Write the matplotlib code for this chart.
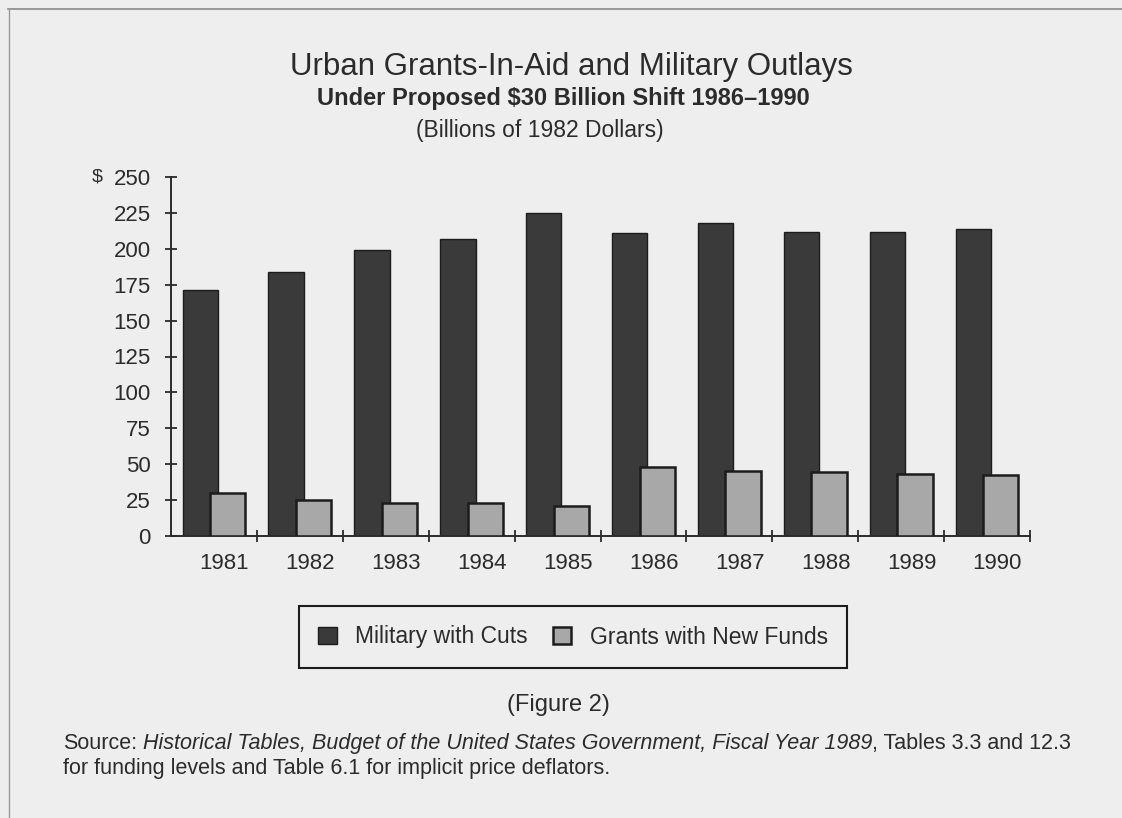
import numpy as np
import matplotlib
matplotlib.use("Agg")
import matplotlib.pyplot as plt
from matplotlib.lines import Line2D

# Values (billions of 1982 dollars)
years = ["1981", "1982", "1983", "1984", "1985", "1986", "1987", "1988", "1989", "1990"]
military = [171, 184, 199, 207, 225, 211, 218, 212, 212, 214]
grants = [30, 25, 23, 23, 21, 48, 45.5, 44.5, 43.5, 42.5]
yticks = [0, 25, 50, 75, 100, 125, 150, 175, 200, 225, 250]

bg = "#eeeeee"
ink = "#2b2b2b"
plt.rcParams["font.family"] = ["Liberation Sans", "DejaVu Sans"]
plt.rcParams["text.color"] = ink

fig = plt.figure(figsize=(11.22, 8.18), dpi=100, facecolor=bg)
ax = fig.add_axes([171 / 1122, 1 - 536 / 818, 859 / 1122, 359 / 818])
ax.set_facecolor(bg)

x = np.arange(len(years))
ax.bar(x - 0.16, military, width=0.41, color="#3a3a3a", edgecolor="#1c1c1c",
       linewidth=1.0, zorder=2, label="Military with Cuts")
ax.bar(x + 0.16, grants, width=0.41, color="#a8a8a8", edgecolor="#1c1c1c",
       linewidth=1.8, zorder=3, label="Grants with New Funds")

ax.set_xlim(-0.5, len(years) - 0.5)
ax.set_ylim(0, 250)

# ticks at category boundaries, labels under the bars
ax.set_xticks(np.arange(0.5, len(years), 1.0))
ax.set_xticklabels([])
ax.set_xticks(x + 0.12, minor=True)
ax.set_xticklabels(years, minor=True, fontsize=16)
ax.tick_params(axis="x", which="major", direction="inout", length=9, width=1.3, color=ink)
ax.tick_params(axis="x", which="minor", length=0, pad=12, labelcolor=ink)

ax.set_yticks(yticks)
ax.set_yticklabels([str(v) for v in yticks], fontsize=16)
ax.tick_params(axis="y", direction="inout", length=9, width=1.3, color=ink, pad=10, labelcolor=ink)
ax.annotate("$", xy=(0, 250), xycoords=("axes fraction", "data"), xytext=(-79, 0),
            textcoords="offset pixels", ha="left", va="center", fontsize=14)

for s in ["top", "right"]:
    ax.spines[s].set_visible(False)
for s in ["left", "bottom"]:
    ax.spines[s].set_linewidth(1.4)
    ax.spines[s].set_color(ink)

# titles
fig.text(571 / 1122, 1 - 67 / 818, "Urban Grants-In-Aid and Military Outlays",
         ha="center", va="center", fontsize=22.5)
fig.text(563 / 1122, 1 - 98 / 818, "Under Proposed \\$30 Billion Shift 1986\u20131990",
         ha="center", va="center", fontsize=17, fontweight="bold")
fig.text(540 / 1122, 1 - 131 / 818, "(Billions of 1982 Dollars)",
         ha="center", va="center", fontsize=16.5)

# legend
leg = fig.legend(loc="center", bbox_to_anchor=(573 / 1122, 1 - 637 / 818), ncol=2,
                 fontsize=16.5, frameon=True, fancybox=False, edgecolor="#1c1c1c",
                 facecolor=bg, framealpha=1, handlelength=0.8, handleheight=0.8,
                 columnspacing=1.1, borderpad=0.85, handletextpad=0.8, borderaxespad=0)
leg.get_frame().set_linewidth(1.5)

fig.text(558 / 1122, 1 - 705 / 818, "(Figure 2)", ha="center", va="center", fontsize=17)

# source note with mixed italic pieces
def note_line(pieces, y):
    prev = fig.text(63 / 1122, y, pieces[0][0], ha="left", va="baseline",
                    fontsize=15.5, style=pieces[0][1])
    for txt, st in pieces[1:]:
        prev = ax.annotate(txt, xy=(1, y), xycoords=(prev, "figure fraction"),
                           ha="left", va="baseline", fontsize=15.5, style=st,
                           annotation_clip=False)

note_line([("Source:", "normal"),
           (" Historical Tables, Budget of the United States Government, Fiscal Year 1989", "italic"),
           (", Tables 3.3 and 12.3", "normal")], 1 - 749 / 818)
note_line([("for funding levels and Table 6.1 for implicit price deflators.", "normal")], 1 - 774 / 818)

# page border
fig.add_artist(Line2D([8 / 1122, 1], [1 - 9 / 818] * 2, transform=fig.transFigure,
                      color="#8a8a8a", lw=1.2))
fig.add_artist(Line2D([9 / 1122] * 2, [0, 1 - 9 / 818], transform=fig.transFigure,
                      color="#9a9a9a", lw=1.0))

fig.savefig("out.png", dpi=100, facecolor=bg)
